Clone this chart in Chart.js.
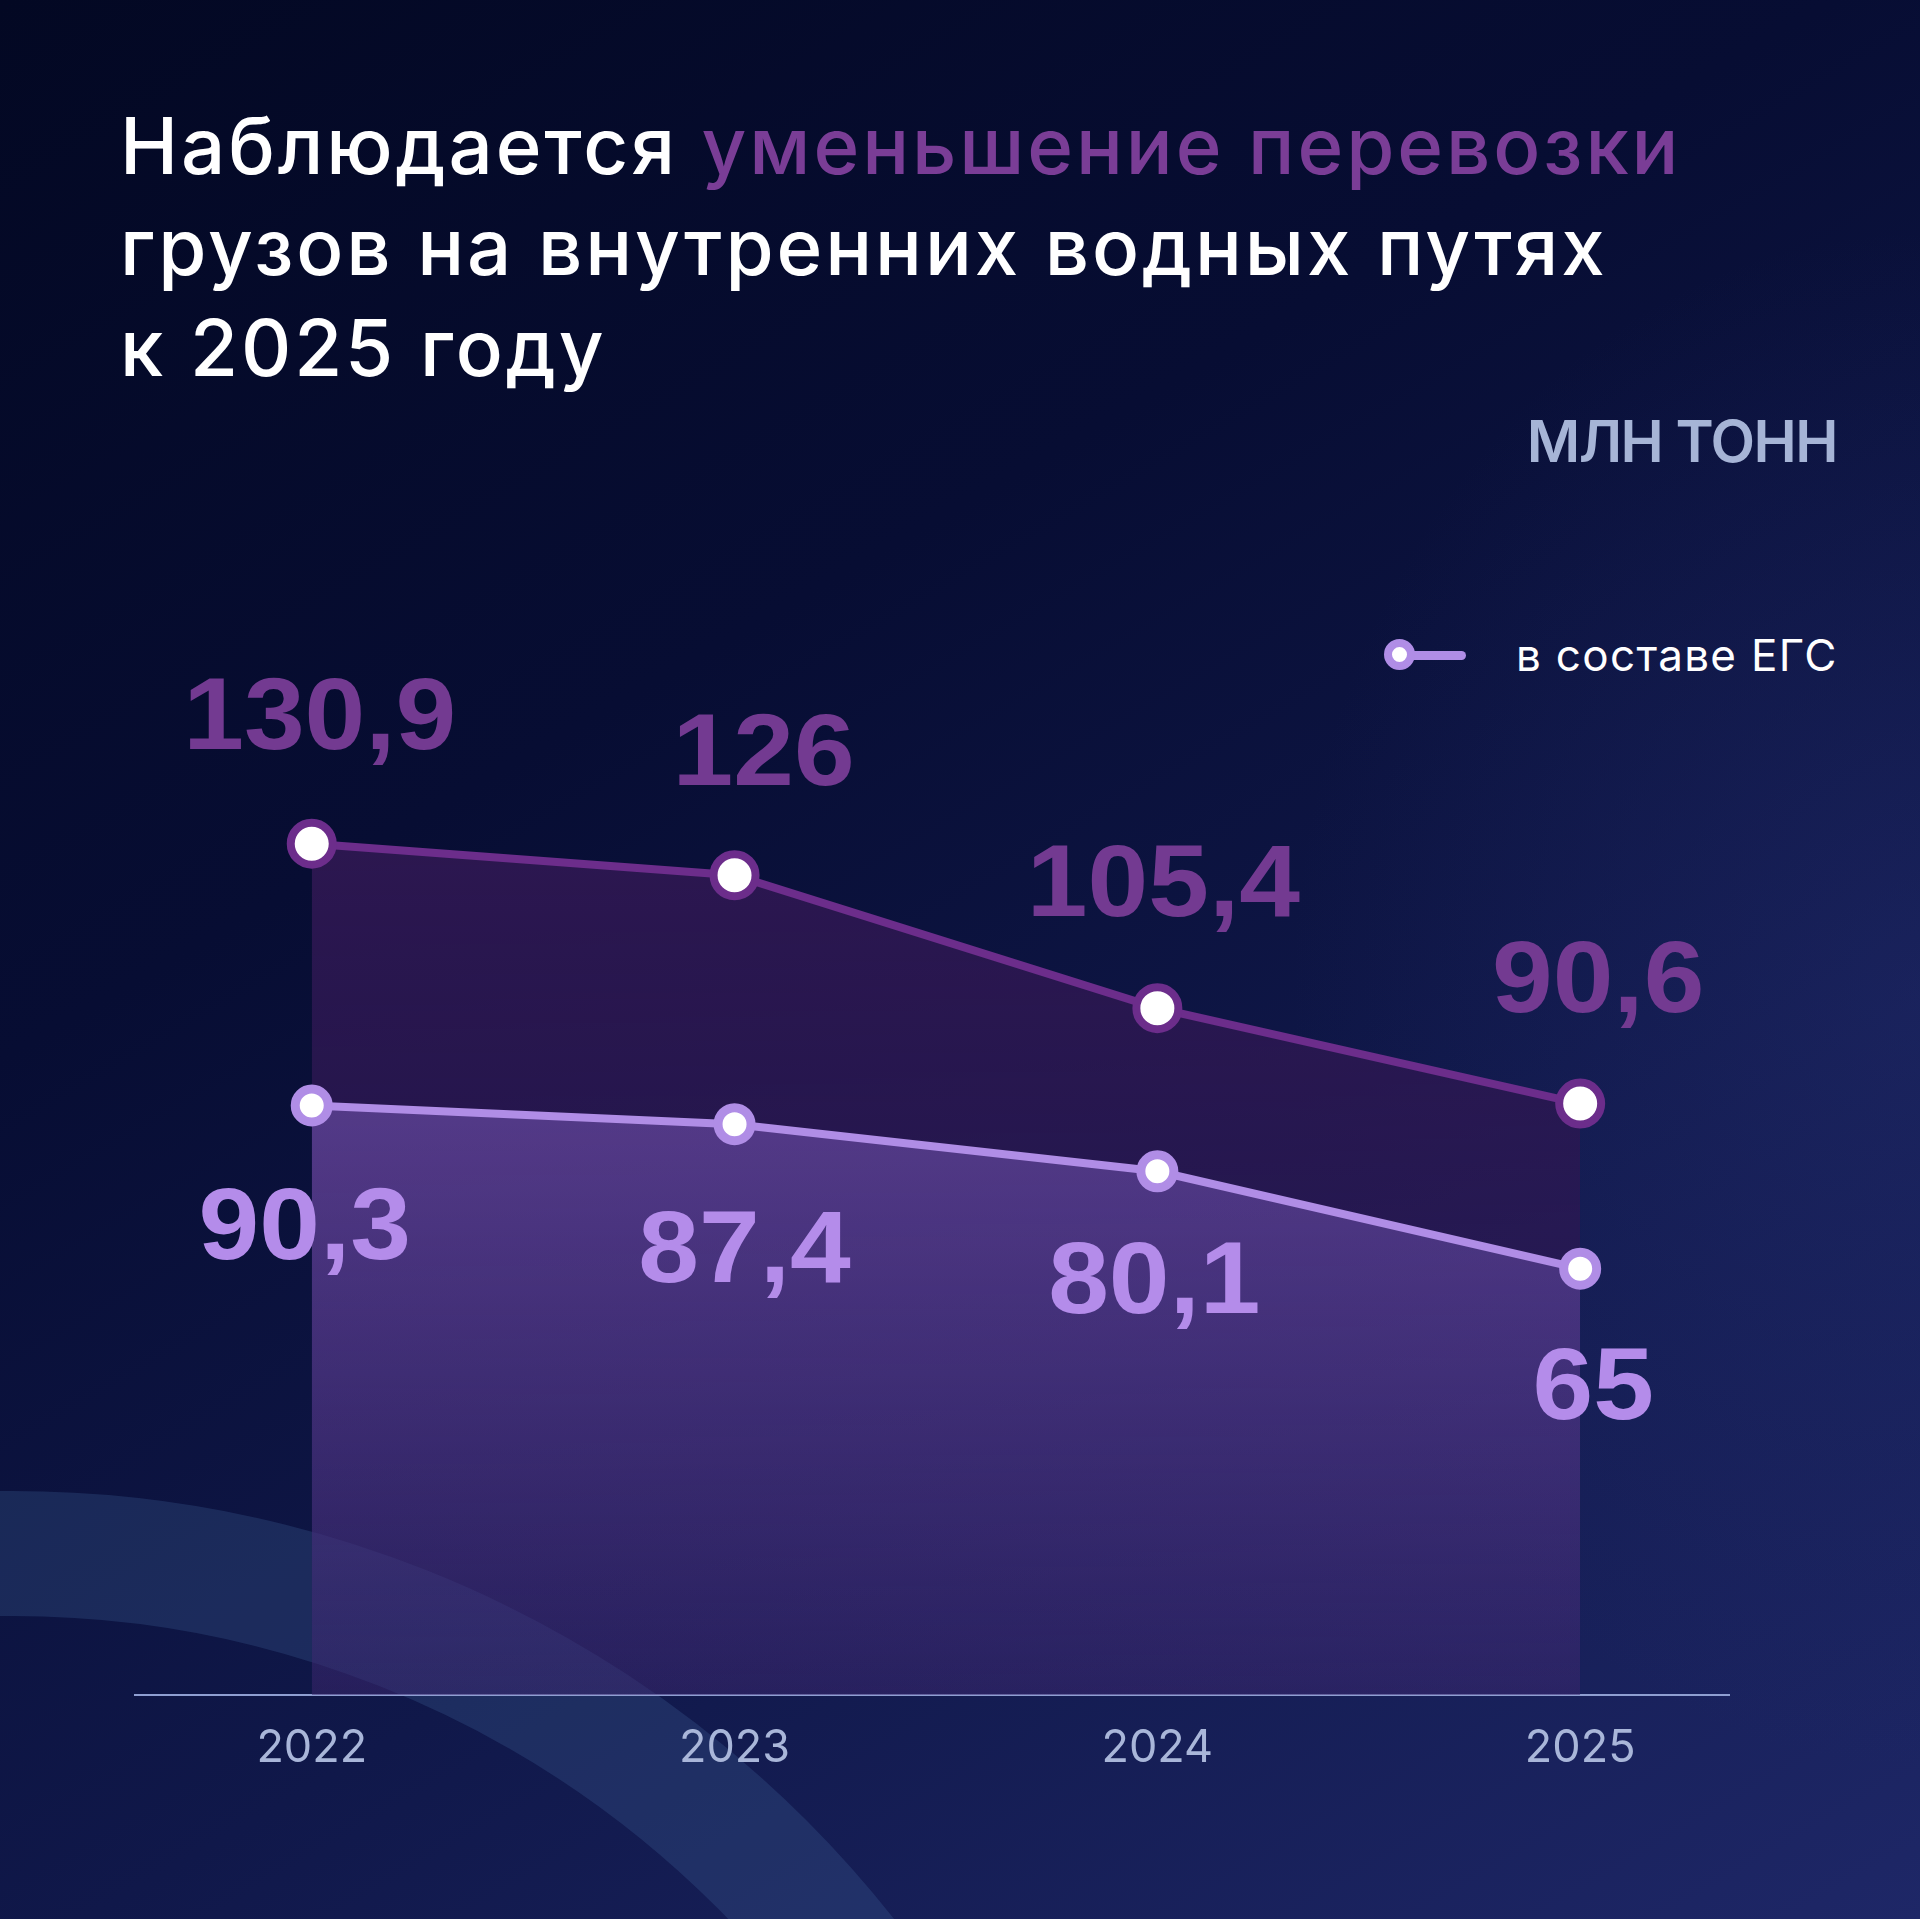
<!DOCTYPE html>
<html lang="ru">
<head>
<meta charset="utf-8">
<title>Перевозка грузов на внутренних водных путях</title>
<script src="https://cdn.jsdelivr.net/npm/chart.js@4.4.1/dist/chart.umd.min.js"></script>
<style>
  html, body { margin: 0; padding: 0; width: 1920px; height: 1919px; overflow: hidden; }
  body {
    position: relative;
    font-family: Inter, "Noto Sans", "DejaVu Sans", sans-serif;
    background:
      radial-gradient(ellipse 900px 1100px at 1920px 1000px, rgba(40,50,120,0.35), rgba(40,50,120,0) 70%),
      linear-gradient(150deg, #030823 0%, #070d33 35%, #10184a 65%, #1e2767 100%);
  }
  #arc {
    position: absolute; left: -1111px; top: 1491px; width: 2246px; height: 2246px;
    border-radius: 50%; box-sizing: border-box;
    border: 125px solid rgba(65,100,155,0.28);
  }
  #title {
    position: absolute; left: 120px; top: 95px; margin: 0;
    font-size: 78px; line-height: 101px; font-weight: 500; color: #ffffff;
    letter-spacing: 2.9px; white-space: nowrap;
  }
  #title .hl { color: #7a3d96; }
  #unit {
    position: absolute; right: 83px; top: 412px;
    font-size: 58px; line-height: 58px; font-weight: 600; color: #a6b4d6;
    letter-spacing: -1.5px;
  }
  #legend { position: absolute; left: 1384px; top: 639px; height: 32px; display: flex; align-items: center; }
  #legend .item { display: flex; align-items: center; height: 32px; }
  #legend .mark { position: relative; width: 82px; height: 32px; }
  #legend .mark .ln { position: absolute; left: 20px; top: 11.5px; width: 62px; height: 9px; border-radius: 5px; }
  #legend .mark .dot { position: absolute; left: 0; top: 0; width: 15px; height: 15px; border-radius: 50%;
    background: #ffffff; border-style: solid; border-width: 8.5px; }
  #legend .txt { margin-left: 50px; font-size: 44px; line-height: 32px; color: #ffffff; white-space: nowrap; letter-spacing: 1.3px; }
  canvas { position: absolute; left: 0; top: 0; }
</style>
</head>
<body>
<div id="arc"></div>
<h1 id="title">Наблюдается <span class="hl">уменьшение перевозки</span><br>грузов на внутренних водных путях<br>к 2025 году</h1>
<div id="unit">МЛН ТОНН</div>
<div id="legend"></div>
<canvas id="chart" width="1920" height="1919"></canvas>
<script>
// ---- data ----
const years = ['2022', '2023', '2024', '2025'];
const totalValues = [130.9, 126, 105.4, 90.6];
const egsValues = [90.3, 87.4, 80.1, 65];
const seriesNames = ['всего', 'в составе ЕГС'];

// ---- styles ----
const upperColor = '#6c2d8b';
const lowerColor = '#b08de6';
const upperLabelColor = '#733a91';
const lowerLabelColor = '#b48cea';

const toPoints = (arr) => arr.map((v, i) => ({ x: i, y: v }));
const fmt = (v) => String(v).replace('.', ',');

function vGrad(chart, stops) {
  const { ctx, chartArea, scales } = chart;
  if (!chartArea) return null;
  const top = scales.y.getPixelForValue(stops.fromValue);
  const g = ctx.createLinearGradient(0, top, 0, chartArea.bottom);
  g.addColorStop(0, stops.from);
  g.addColorStop(1, stops.to);
  return g;
}

const valueLabels = {
  id: 'valueLabels',
  afterDatasetsDraw(chart, args, opts) {
    const { ctx } = chart;
    chart.data.datasets.forEach((ds, i) => {
      const meta = chart.getDatasetMeta(i);
      const st = opts.styles[i];
      meta.data.forEach((pt, j) => {
        const cx = pt.x + st.dx[j];
        const baseY = pt.y + st.dy[j] + 0.358 * opts.size;
        ctx.save();
        ctx.font = `bold ${opts.size}px "Liberation Sans", Arial, sans-serif`;
        ctx.fillStyle = st.color;
        ctx.textAlign = 'center';
        ctx.textBaseline = 'alphabetic';
        ctx.translate(cx, baseY);
        ctx.scale(opts.stretch, 1);
        ctx.fillText(fmt(ds.data[j].y), 0, 0);
        ctx.restore();
      });
    });
  }
};

const htmlLegend = {
  id: 'htmlLegend',
  afterUpdate(chart) {
    const box = document.getElementById('legend');
    box.innerHTML = '';
    chart.data.datasets.forEach((ds) => {
      if (!ds.showInLegend) return;
      const item = document.createElement('div');
      item.className = 'item';
      const mark = document.createElement('span');
      mark.className = 'mark';
      const ln = document.createElement('span');
      ln.className = 'ln';
      ln.style.background = ds.borderColor;
      const dot = document.createElement('span');
      dot.className = 'dot';
      dot.style.borderColor = ds.pointBorderColor;
      mark.appendChild(ln); mark.appendChild(dot);
      const txt = document.createElement('span');
      txt.className = 'txt';
      txt.textContent = ds.label;
      item.appendChild(mark); item.appendChild(txt);
      box.appendChild(item);
    });
  }
};

new Chart(document.getElementById('chart'), {
  type: 'line',
  data: {
    datasets: [
      {
        label: seriesNames[1],
        showInLegend: true,
        data: toPoints(egsValues),
        borderColor: lowerColor,
        borderWidth: 8,
        pointRadius: 16.5,
        pointBorderWidth: 9,
        pointBackgroundColor: '#ffffff',
        pointBorderColor: lowerColor,
        tension: 0,
        fill: 'start',
        backgroundColor: (c) => vGrad(c.chart, { fromValue: 90.3, from: 'rgba(122,88,184,0.55)', to: 'rgba(110,85,190,0.12)' })
      },
      {
        label: seriesNames[0],
        showInLegend: false,
        data: toPoints(totalValues),
        borderColor: upperColor,
        borderWidth: 8,
        pointRadius: 21,
        pointBorderWidth: 8,
        pointBackgroundColor: '#ffffff',
        pointBorderColor: upperColor,
        tension: 0,
        fill: 'start',
        backgroundColor: (c) => vGrad(c.chart, { fromValue: 130.9, from: 'rgba(44,23,80,1)', to: 'rgba(44,25,85,0.45)' })
      }
    ]
  },
  options: {
    responsive: false,
    animation: false,
    devicePixelRatio: 1,
    layout: { padding: { left: 135, right: 191, top: 398, bottom: 104 } },
    scales: {
      x: {
        type: 'linear',
        min: -0.418,
        max: 3.352,
        afterBuildTicks: (scale) => { scale.ticks = years.map((y, i) => ({ value: i })); },
        afterFit: (scale) => { scale.height = 120; },
        grid: { display: false, drawTicks: false },
        border: { display: true, color: '#8f9fd2', width: 2 },
        ticks: {
          padding: 26,
          color: '#a9b6d9',
          font: { family: 'Inter', size: 45 },
          callback: (v) => years[v] ?? ''
        }
      },
      y: {
        display: false,
        min: -1.1,
        max: 200
      }
    },
    plugins: {
      legend: { display: false },
      tooltip: { enabled: false },
      valueLabels: {
        size: 102,
        stretch: 1.07,
        styles: [
          { color: lowerLabelColor, dx: [-7, 10, -3, 13], dy: [117, 121, 105, 114] },
          { color: upperLabelColor, dx: [8, 29, 6, 18], dy: [-131, -127, -129, -128] }
        ]
      }
    }
  },
  plugins: [valueLabels, htmlLegend]
});
</script>
</body>
</html>
